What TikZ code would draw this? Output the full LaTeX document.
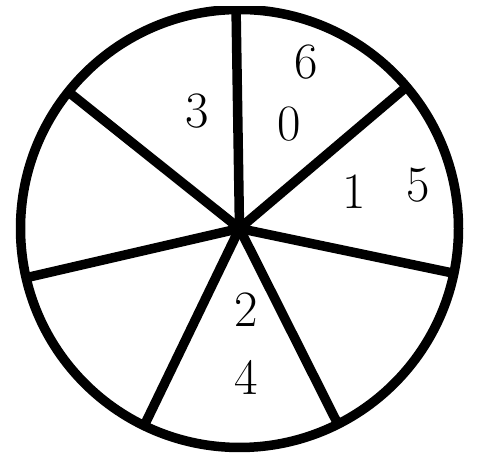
\documentclass[tikz,border=0pt]{standalone}
\usepackage{tikz}
\tikzset{
  rim/.style={line width=0.19cm},
  digit/.style={font=\fontsize{29}{35}\selectfont, inner sep=0pt},
}
\begin{document}
\begin{tikzpicture}[x=0.02cm,y=0.02cm]
\useasboundingbox (0,0) rectangle (480,469);
\begin{scope}
\clip (0,0) rectangle (480,462);
\coordinate (c) at (239.5,240.5);
\draw[rim] (c) circle (219);
\foreach \a in {90.9, 40.3, 348.2, 296.7, 244.2, 193.0, 141.4} {
	\draw[rim] (c) -- ++(\a:219);
}
\end{scope}
\node[digit] (six) at (306,407) {6};
\node[digit] (three) at (197,358) {3};
\node[digit] (zero) at (289,345) {0};
\node[digit] (one) at (354,277) {1};
\node[digit] (five) at (418,284) {5};
\node[digit] (two) at (246,159) {2};
\node[digit] (four) at (246,92) {4};
\end{tikzpicture}
\end{document}
